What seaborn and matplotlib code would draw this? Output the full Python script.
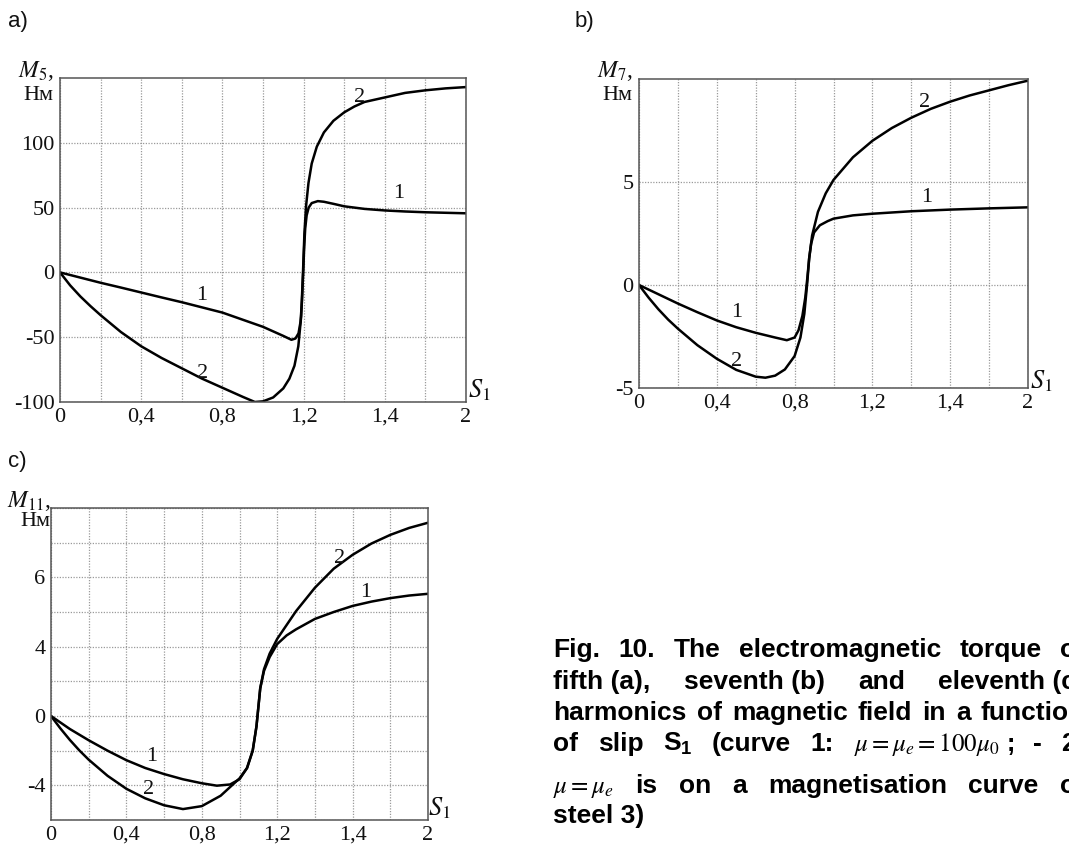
import numpy as np
import pandas as pd
import matplotlib
matplotlib.use("Agg")
import matplotlib.pyplot as plt
import seaborn as sns

# ---- slip axis (shared tick positions / labels) ----
s_tick_pos = [0.0, 0.4, 0.8, 1.2, 1.6, 2.0]
s_tick_labels = ["0", "0,4", "0,8", "1,2", "1,4", "2"]

# ---- a) fifth harmonic torque M5, N*m ----
a1_s = [0, 0.1, 0.2, 0.3, 0.4, 0.5, 0.6, 0.7, 0.8, 0.9, 1.0, 1.05, 1.1, 1.14,
        1.16, 1.175, 1.185, 1.192, 1.198, 1.203, 1.208, 1.215, 1.225, 1.24,
        1.27, 1.3, 1.35, 1.4, 1.5, 1.6, 1.7, 1.8, 1.9, 2.0]
a1_m = [0, -4, -8, -11.7, -15.5, -19.3, -23, -27, -31, -36.5, -42, -45.5, -49,
        -52, -51, -47, -38, -22, 0, 20, 34, 44, 50, 53.5,
        55, 54.5, 52.8, 51, 49, 47.8, 47, 46.4, 46, 45.6]
a2_s = [0, 0.05, 0.1, 0.15, 0.2, 0.3, 0.4, 0.5, 0.6, 0.7, 0.8, 0.9, 0.96, 1.0,
        1.05, 1.1, 1.13, 1.155, 1.174, 1.188, 1.197, 1.204, 1.212, 1.224, 1.24,
        1.265, 1.3, 1.347, 1.4, 1.45, 1.5, 1.6, 1.7, 1.8, 1.9, 2.0]
a2_m = [0, -10, -18.5, -26, -33, -46, -57, -66, -74, -82, -89, -96, -100, -99.5,
        -96.5, -89.5, -82, -72, -57, -34, 0, 30, 51, 69, 84,
        97, 108, 117, 123.5, 128, 131.5, 135, 138.5, 140.5, 142, 143]

# ---- b) seventh harmonic torque M7, N*m ----
b1_s = [0, 0.1, 0.2, 0.3, 0.4, 0.5, 0.6, 0.7, 0.76, 0.8, 0.82, 0.84, 0.855,
        0.865, 0.875, 0.885, 0.9, 0.93, 0.97, 1.0, 1.1, 1.2, 1.4, 1.6, 1.8, 2.0]
b1_m = [0, -0.45, -0.9, -1.32, -1.72, -2.05, -2.32, -2.55, -2.68, -2.55, -2.2,
        -1.5, -0.6, 0.3, 1.3, 2.0, 2.55, 2.9, 3.1, 3.22, 3.38, 3.46, 3.58,
        3.66, 3.72, 3.77]
b2_s = [0, 0.05, 0.1, 0.15, 0.2, 0.3, 0.4, 0.5, 0.6, 0.65, 0.7, 0.75, 0.8,
        0.83, 0.85, 0.865, 0.875, 0.89, 0.92, 0.96, 1.0, 1.1, 1.2, 1.3, 1.4,
        1.5, 1.6, 1.7, 1.8, 1.9, 2.0]
b2_m = [0, -0.62, -1.18, -1.68, -2.12, -2.92, -3.58, -4.12, -4.45, -4.5, -4.4,
        -4.1, -3.45, -2.55, -1.4, 0.1, 1.3, 2.4, 3.55, 4.45, 5.1, 6.2, 7.0,
        7.62, 8.12, 8.55, 8.9, 9.2, 9.45, 9.7, 9.92]

# ---- c) eleventh harmonic torque M11, N*m ----
c_m_tick_pos = [-4, 0, 4, 8]
c_m_tick_labels = ["-4", "0", "4", "6"]
c1_s = [0, 0.1, 0.2, 0.3, 0.4, 0.5, 0.6, 0.7, 0.8, 0.88, 0.95, 1.0, 1.04,
        1.07, 1.09, 1.1, 1.11, 1.13, 1.16, 1.2, 1.25, 1.3, 1.4, 1.5, 1.6, 1.7,
        1.8, 1.9, 2.0]
c1_m = [0, -0.75, -1.4, -2.0, -2.55, -3.0, -3.35, -3.65, -3.88, -4.02, -3.95,
        -3.65, -3.0, -2.0, -0.6, 0.5, 1.6, 2.6, 3.4, 4.15, 4.65, 5.0, 5.6, 6.0,
        6.35, 6.6, 6.8, 6.95, 7.05]
c2_s = [0, 0.05, 0.1, 0.15, 0.2, 0.3, 0.4, 0.5, 0.6, 0.7, 0.8, 0.9, 1.0, 1.04,
        1.07, 1.09, 1.1, 1.11, 1.13, 1.16, 1.2, 1.25, 1.3, 1.4, 1.5, 1.6, 1.7,
        1.8, 1.9, 2.0]
c2_m = [0, -0.72, -1.38, -1.98, -2.52, -3.45, -4.2, -4.75, -5.15, -5.37, -5.2,
        -4.6, -3.6, -3.0, -2.0, -0.6, 0.5, 1.6, 2.7, 3.6, 4.45, 5.25, 6.05, 7.4,
        8.5, 9.3, 9.95, 10.45, 10.85, 11.15]

W, H = 1069, 847
sns.set_theme(style="white")
plt.rcParams.update({
    "font.family": ["Liberation Serif", "DejaVu Serif"],
    "mathtext.fontset": "custom",
    "mathtext.rm": "Liberation Sans:bold",
    "mathtext.it": "Liberation Sans:bold",
    "mathtext.bf": "Liberation Sans:bold",
})

fig = plt.figure(figsize=(W / 100, H / 100), dpi=100)
fig.patch.set_facecolor("white")

SERIF = "Liberation Serif"
SANS = "Liberation Sans"
INK = "#111111"


def px_axes(left, top, right, bottom):
    return fig.add_axes([left / W, 1 - bottom / H, (right - left) / W,
                         (bottom - top) / H])


def draw_panel(df, ax):
    sns.lineplot(data=df, x="s", y="m", units="curve", estimator=None,
                 sort=False, color="black", lw=1.8, ax=ax, legend=False)
    ax.set_xlim(0, 2)
    ax.set_xticks(s_tick_pos)
    ax.set_xticklabels(s_tick_labels)
    ax.set_xticks(np.arange(0, 2.001, 0.2), minor=True)
    ax.set_xlabel("")
    ax.set_ylabel("")
    ax.tick_params(which="both", length=0, labelsize=16, pad=4,
                   labelcolor=INK)
    ax.grid(True, which="both", axis="both", ls=(0, (1, 1.2)),
            color="#9a9a9a", lw=0.9)
    ax.set_axisbelow(True)
    for sp in ax.spines.values():
        sp.set_color("#555555")
        sp.set_linewidth(1.1)
    ax.set_facecolor("white")


def finish_ticks(ax):
    for lab in ax.get_xticklabels() + ax.get_yticklabels():
        lab.set_fontfamily(SERIF)


def to_frame(pairs):
    rows = [pd.DataFrame({"s": s, "m": m, "curve": name})
            for name, s, m in pairs]
    return pd.concat(rows, ignore_index=True)


def curve_label(ax, x, y, txt):
    ax.text(x, y, txt, fontsize=16, family=SERIF, ha="center", va="center",
            color=INK)


def ftext(x, y, s, **kw):
    return fig.text(x / W, 1 - y / H, s, **kw)


# ---- panel a ----
ax_a = px_axes(60, 78, 466, 402)
draw_panel(to_frame([("1", a1_s, a1_m), ("2", a2_s, a2_m)]), ax_a)
ax_a.set_ylim(-100, 150)
ax_a.set_yticks([-100, -50, 0, 50, 100])
ax_a.set_yticklabels(["-100", "-50", "0", "50", "100"])
finish_ticks(ax_a)
curve_label(ax_a, 1.475, 135, "2")
curve_label(ax_a, 1.67, 61, "1")
curve_label(ax_a, 0.70, -18, "1")
curve_label(ax_a, 0.70, -78, "2")

# ---- panel b ----
ax_b = px_axes(639, 79, 1028, 388)
draw_panel(to_frame([("1", b1_s, b1_m), ("2", b2_s, b2_m)]), ax_b)
ax_b.set_ylim(-5, 10)
ax_b.set_yticks([-5, 0, 5])
ax_b.set_yticklabels(["-5", "0", "5"])
finish_ticks(ax_b)
curve_label(ax_b, 1.467, 8.85, "2")
curve_label(ax_b, 1.48, 4.25, "1")
curve_label(ax_b, 0.50, -1.35, "1")
curve_label(ax_b, 0.50, -3.7, "2")

# ---- panel c ----
ax_c = px_axes(51, 508, 428, 820)
draw_panel(to_frame([("1", c1_s, c1_m), ("2", c2_s, c2_m)]), ax_c)
ax_c.set_ylim(-6, 12)
ax_c.set_yticks(c_m_tick_pos)
ax_c.set_yticklabels(c_m_tick_labels)
ax_c.set_yticks(np.arange(-6, 12.001, 2), minor=True)
finish_ticks(ax_c)
curve_label(ax_c, 1.53, 9.1, "2")
curve_label(ax_c, 1.67, 7.1, "1")
curve_label(ax_c, 0.535, -2.35, "1")
curve_label(ax_c, 0.52, -4.25, "2")

# ---- axis captions ----
for x, y1, y2, sym in [(54, 71, 95, r"$M_5$,"), (633, 71, 95, r"$M_7$,"),
                       (51, 501, 521, r"$M_{11}$,")]:
    ftext(x, y1, sym, ha="right", va="center", fontsize=17, family=SERIF,
          math_fontfamily="stix", color=INK)
    ftext(x - 1, y2, "Нм", ha="right", va="center", fontsize=16, family=SERIF,
          color=INK)
for x, y in [(479, 390), (1041, 381), (439, 808)]:
    ftext(x, y, r"$S_1$", ha="center", va="center", fontsize=19, family=SERIF,
          math_fontfamily="stix", color=INK)

# ---- panel letters ----
for x, y, t in [(8, 22, "a)"), (575, 22, "b)"), (8, 462, "c)")]:
    ftext(x, y, t, ha="left", va="center", fontsize=16, family=SANS,
          color=INK)

# ---- figure caption (justified block) ----
BOLD = dict(family=SANS, weight="bold", fontsize=19, color="black")
MATH = dict(family=SANS, weight="bold", fontsize=18, color="black",
            math_fontfamily="stix")
SUB = dict(family=SANS, weight="bold", fontsize=19, color="black",
           math_fontfamily="custom")

caption_lines = [
    [("Fig.", BOLD), ("10.", BOLD), ("The", BOLD), ("electromagnetic", BOLD),
     ("torque", BOLD), ("of", BOLD)],
    [("fifth (a),", BOLD), ("seventh (b)", BOLD), ("and", BOLD),
     ("eleventh (c)", BOLD)],
    [("harmonics", BOLD), ("of", BOLD), ("magnetic", BOLD), ("field", BOLD),
     ("in", BOLD), ("a", BOLD), ("function", BOLD)],
    [("of", BOLD), ("slip", BOLD), (r"S$_{1}$", SUB), ("(curve", BOLD),
     ("1:", BOLD), (r"$\mu = \mu_e = 100\mu_0$ ;", MATH), ("-", BOLD),
     ("2:", BOLD)],
    [(r"$\mu = \mu_e$", MATH), ("is", BOLD), ("on", BOLD), ("a", BOLD),
     ("magnetisation", BOLD), ("curve", BOLD), ("of", BOLD)],
    [("steel 3)", BOLD)],
]
baselines = [657, 689, 720, 751, 793, 823]
X0, X1 = 553, 1085

renderer = fig.canvas.get_renderer()
for segs, yb in zip(caption_lines, baselines):
    items = [ftext(0, yb, txt, ha="left", va="baseline", **style)
             for txt, style in segs]
    widths = [t.get_window_extent(renderer).width for t in items]
    gap = (X1 - X0 - sum(widths)) / (len(items) - 1) if len(items) > 1 else 0
    x = X0
    for t, w in zip(items, widths):
        t.set_x(x / W)
        x += w + gap

fig.savefig("out.png", dpi=100, facecolor="white")
